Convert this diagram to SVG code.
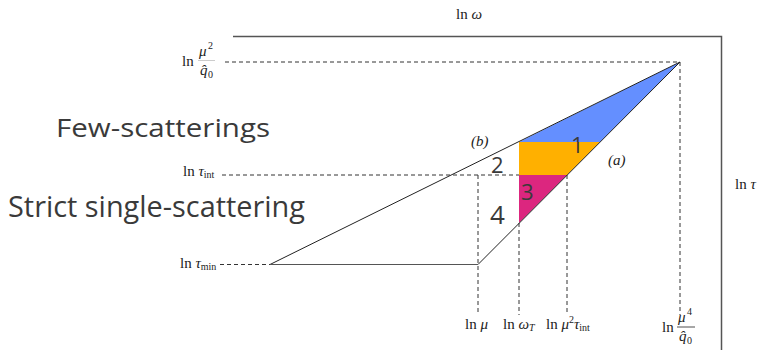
<svg xmlns="http://www.w3.org/2000/svg" width="762" height="350" viewBox="0 0 762 350">
<style>
.ax{stroke:#555;stroke-width:1.5;fill:none}
.ln{stroke:#222;stroke-width:1;fill:none}
.ds{stroke:#333;stroke-width:1;fill:none;stroke-dasharray:4 3}
.m{font-family:"Liberation Serif",serif;font-size:15px;fill:#222}
.mi{font-style:italic}
.sb{font-size:10px}
.big{font-family:"Open Sans","Noto Sans",sans-serif;fill:#3a3a3a}
.num{font-family:"Open Sans","Noto Sans",sans-serif;fill:#3a3a3a;font-size:22px}
</style>
<rect width="762" height="350" fill="#fff"/>
<g id="connectors">
<polyline class="ax" points="233,36.5 721.5,36.5 721.5,350"/>
<line class="ds" x1="225" y1="62" x2="680" y2="62"/>
<line class="ds" x1="222" y1="175" x2="567" y2="175"/>
<line class="ds" x1="220" y1="264.5" x2="270" y2="264.5"/>
<line class="ds" x1="478" y1="175" x2="478" y2="315"/>
<line class="ds" x1="519" y1="223" x2="519" y2="315"/>
<line class="ds" x1="567" y1="175" x2="567" y2="315"/>
<line class="ds" x1="680" y1="62" x2="680" y2="315"/>
</g>
<g id="regions">
<polygon points="519,142 680,62 600,142" fill="#648FFF"/>
<polygon points="519,142 600,142 567,175 519,175" fill="#FFB000"/>
<polygon points="519,175 567,175 519,223" fill="#DC267F"/>
</g>
<g id="edges">
<line class="ln" x1="270" y1="264.5" x2="680" y2="62"/>
<line class="ln" x1="478" y1="264.5" x2="680" y2="62"/>
<line class="ax" x1="270" y1="264.5" x2="478" y2="264.5" style="stroke-width:1.2"/>
</g>
<g id="axis-labels">
<text class="m" x="456" y="19">ln <tspan class="mi">ω</tspan></text>
<text class="m" x="735" y="189">ln <tspan class="mi">τ</tspan></text>
<g id="lbl-mu2q0">
<text class="m" x="182" y="66">ln</text>
<text class="m mi" x="199" y="56">μ</text><text class="m sb" x="208" y="49">2</text>
<line x1="198" y1="60.5" x2="215" y2="60.5" stroke="#aaa" stroke-width="0.6"/>
<text class="m mi" x="200" y="75">q̂</text><text class="m sb" x="208" y="78">0</text>
</g>
<text class="m" x="183" y="176">ln <tspan class="mi">τ</tspan><tspan class="sb" dy="2">int</tspan></text>
<text class="m" x="180" y="268">ln <tspan class="mi">τ</tspan><tspan class="sb" dy="2">min</tspan></text>
<text class="m" x="465" y="329">ln <tspan class="mi">μ</tspan></text>
<text class="m" x="503" y="329">ln <tspan class="mi">ω</tspan><tspan class="sb mi" dy="2">T</tspan></text>
<text class="m" x="546" y="329">ln <tspan class="mi">μ</tspan><tspan class="sb" dy="-6">2</tspan><tspan class="mi" dy="6">τ</tspan><tspan class="sb" dy="2">int</tspan></text>
<g id="lbl-mu4q0">
<text class="m" x="662" y="332">ln</text>
<text class="m mi" x="678" y="322">μ</text><text class="m sb" x="687" y="315">4</text>
<line x1="677" y1="327" x2="695" y2="327" stroke="#222" stroke-width="0.8"/>
<text class="m mi" x="679" y="341">q̂</text><text class="m sb" x="687" y="344">0</text>
</g>
<text class="m mi" x="471" y="146">(b)</text>
<text class="m mi" x="608" y="165">(a)</text>
</g>
<g id="numbers">
<text class="num" x="571" y="153">1</text>
<text class="num" x="491" y="173">2</text>
<text class="num" x="521" y="200">3</text>
<text class="num" x="490" y="224" style="font-size:26px">4</text>
</g>
<g id="titles">
<text class="big" x="56" y="137" font-size="26" textLength="214" lengthAdjust="spacingAndGlyphs">Few-scatterings</text>
<text class="big" x="8" y="217" font-size="29" textLength="297" lengthAdjust="spacingAndGlyphs">Strict single-scattering</text>
</g>
</svg>
